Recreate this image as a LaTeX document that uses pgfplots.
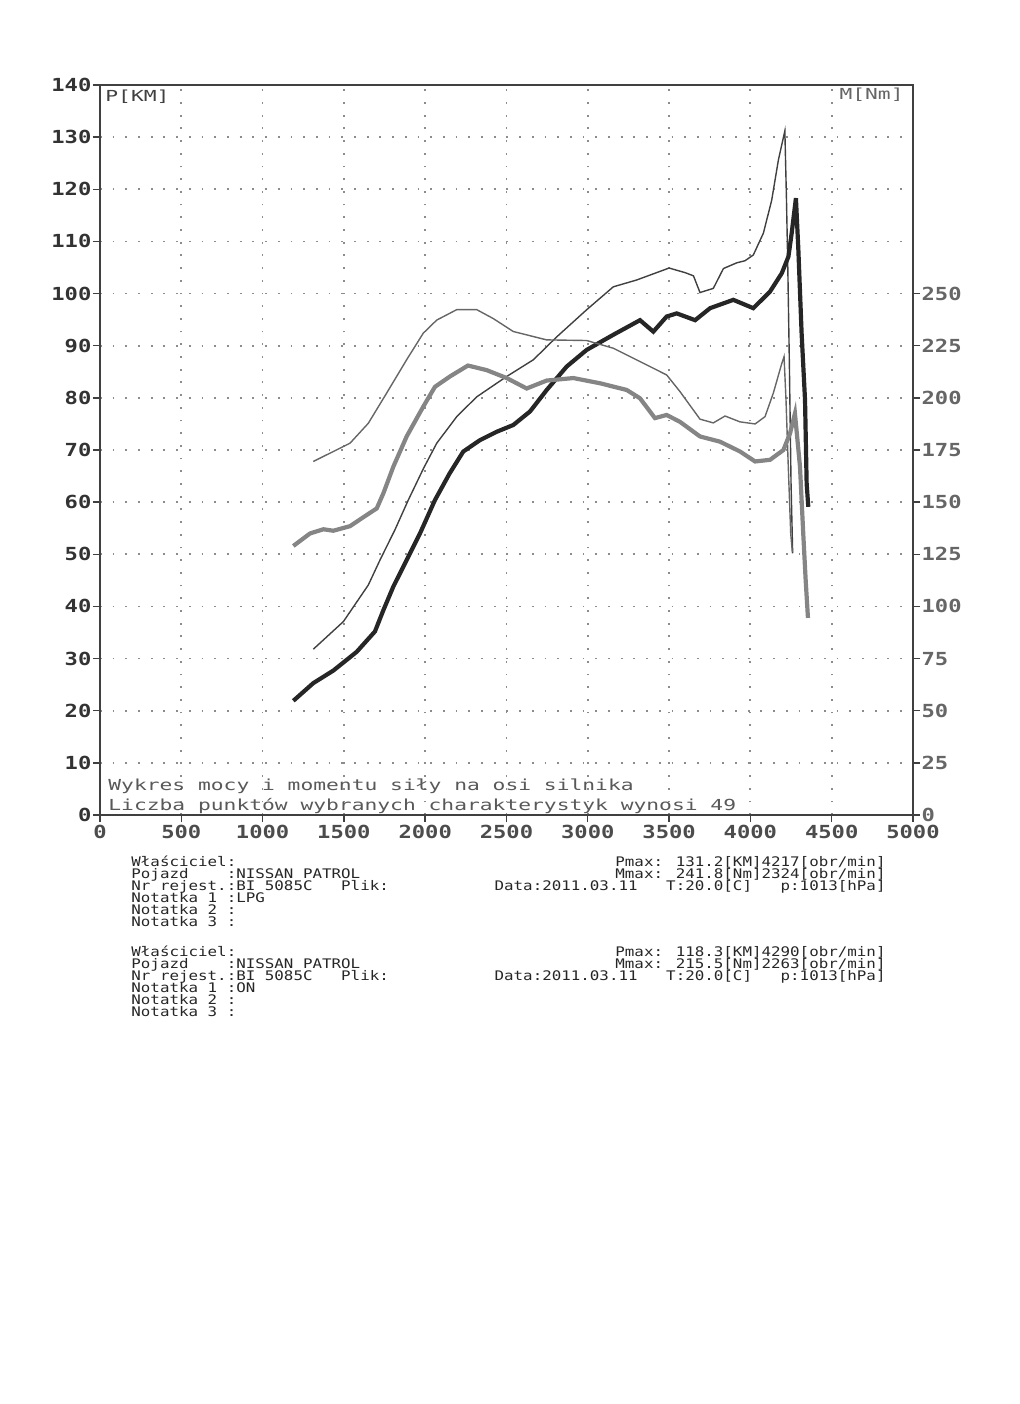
\documentclass[border=0pt]{standalone}
\usepackage{fontspec}
\usepackage{pgfplots}
\pgfplotsset{compat=1.18}
\setmainfont{DejaVu Sans Mono}
% wide, low "dot-matrix" look of the dyno printout
\newfontfamily\dos[FakeStretch=1.2]{DejaVu Sans Mono}
\newfontfamily\dosbig[FakeStretch=1.40]{DejaVu Sans Mono}
\newfontfamily\dostick[FakeStretch=1.23]{DejaVu Sans Mono Bold}
\newcommand\tickfont{\dostick\fontsize{9}{9}\selectfont}
\newcommand\bigfont{\dosbig\fontsize{7.6}{8}\selectfont}
\newcommand\smallfont{\dos\fontsize{6.6}{6.6}\selectfont}
\definecolor{gridgray}{gray}{0.55}
\definecolor{framegray}{gray}{0.25}
\definecolor{torqgray}{gray}{0.52}

\pgfplotsset{
  dyno/.style={
    at={(50pt,-407.5pt)}, anchor=south west,
    scale only axis, width=406.5pt, height=365pt,
    xmin=0, xmax=5000,
    tick align=outside, major tick length=3.5pt,
    tick style={framegray, line width=0.7pt},
    axis line style={framegray, line width=0.7pt},
    /pgf/number format/assume math mode=true,
    /pgf/number format/1000 sep={},
    ticklabel style={font=\tickfont},
  },
}

\begin{document}
\begin{tikzpicture}
\path[use as bounding box] (0,0) rectangle (510pt,-702pt);

% power [KM]
\begin{axis}[dyno,
    ymin=0, ymax=140,
    xtick={0,500,...,5000}, ytick={0,10,...,140},
    xtick pos=bottom, ytick pos=left,
    grid=major,
    major grid style={gridgray, line width=0.9pt, dash pattern=on 0.9pt off 5.45pt},
    xticklabel style={text=black!70, inner sep=1.5pt},
    yticklabel style={text=black!80, inner sep=0.6pt},
  ]
  % LPG power (thin)
  \addplot[black!75, line width=0.7pt] coordinates {
    (1312,31.8) (1497,37.1) (1650,44.1) (1722,48.9) (1814,54.7) (1896,60.4)
    (1990,66.5) (2071,71.3) (2194,76.4) (2317,80.2) (2501,84.1) (2665,87.3)
    (2809,91.7) (2993,96.9) (3157,101.3) (3300,102.6) (3500,104.9) (3600,104.0)
    (3650,103.4) (3690,100.2) (3772,101.0) (3834,104.8) (3916,105.9) (3967,106.3)
    (4018,107.4) (4080,111.6) (4131,117.9) (4172,125.6) (4212,131.2)
    (4222,117.9) (4230,105.2) (4240,86.0) (4250,63.6) (4260,50.2)
  };
  % ON power (thick)
  \addplot[black!85, line width=2.1pt] coordinates {
    (1189,21.9) (1312,25.3) (1435,27.7) (1579,31.3) (1691,35.2) (1743,39.3)
    (1804,43.8) (1886,48.9) (1968,54.0) (2060,60.4) (2150,65.5) (2234,69.7)
    (2337,71.9) (2440,73.5) (2542,74.8) (2645,77.4) (2747,81.5) (2870,86.0)
    (2993,89.2) (3157,92.1) (3321,94.9) (3403,92.7) (3485,95.6) (3547,96.2)
    (3660,94.9) (3752,97.2) (3895,98.8) (4018,97.2) (4121,100.4) (4193,103.9)
    (4234,107.1) (4254,111.6) (4280,118.3) (4295,108.4) (4315,92.4)
    (4336,79.6) (4346,63.6) (4356,59.1)
  };
\end{axis}

% torque [Nm]
\begin{axis}[dyno,
    ymin=0, ymax=350, ytick={0,25,...,250},
    hide x axis, axis y line*=right,
    yticklabel style={text=black!60, inner sep=0.6pt},
  ]
  % LPG torque (thin)
  \addplot[black!60, line width=0.7pt] coordinates {
    (1312,169.5) (1538,178.3) (1650,187.8) (1763,202.3) (1886,218.3) (1988,231.0)
    (2071,237.3) (2194,242.3) (2317,242.3) (2419,238.0) (2542,231.8) (2747,227.8)
    (2993,227.5) (3157,223.8) (3362,215.8) (3485,211.0) (3567,203.0) (3690,189.8)
    (3772,188.0) (3844,191.3) (3936,188.5) (4029,187.5) (4090,191.0) (4141,202.3)
    (4193,216.5) (4207,219.8) (4219,199.0) (4233,167.0) (4248,135.0) (4258,126.0)
  };
  % ON torque (thick)
  \addplot[torqgray, line width=2.1pt] coordinates {
    (1189,129.0) (1292,135.0) (1374,137.0) (1435,136.3) (1538,138.5) (1620,142.8)
    (1702,147.0) (1743,154.3) (1804,167.0) (1886,181.5) (1988,195.8) (2060,205.3)
    (2153,210.3) (2263,215.5) (2378,213.3) (2501,209.5) (2624,204.5) (2747,208.3)
    (2911,209.5) (3075,207.0) (3239,203.8) (3321,199.8) (3413,190.3) (3485,191.8)
    (3567,188.5) (3690,181.5) (3813,179.0) (3936,174.3) (4029,169.5) (4121,170.3)
    (4203,175.0) (4244,183.0) (4274,192.5) (4305,167.0) (4325,135.0) (4340,112.5)
    (4354,94.5)
  };
\end{axis}

\begin{scope}[x=0.5pt, y=-0.5pt]
  \node[anchor=west, inner sep=0pt, text=black!75, font=\bigfont] at (105,97) {P[KM]};
  \node[anchor=east, inner sep=0pt, text=black!60, font=\bigfont] at (904,95) {M[Nm]};
  \node[anchor=base west, inner sep=0pt, text=black!65, font=\bigfont] at (108,790)
    {Wykres mocy i momentu siły na osi silnika};
  \node[anchor=base west, inner sep=0pt, text=black!65, font=\bigfont] at (108,810)
    {Liczba punktów wybranych charakterystyk wynosi 49};

  \begin{scope}[every node/.style={inner sep=0pt, text=black!85, font=\smallfont}]
    % first measurement (LPG)
    \node[anchor=base west] at (131,866) {Właściciel:};
    \node[anchor=base west] at (131,878) {Pojazd\ \ \ \ :NISSAN PATROL};
    \node[anchor=base west] at (131,890) {Nr rejest.:BI 5085C\ \ \ Plik:};
    \node[anchor=base west] at (131,902) {Notatka 1 :LPG};
    \node[anchor=base west] at (131,914) {Notatka 2 :};
    \node[anchor=base west] at (131,926) {Notatka 3 :};
    \node[anchor=base east] at (886,866) {Pmax: 131.2[KM]4217[obr/min]};
    \node[anchor=base east] at (886,878) {Mmax: 241.8[Nm]2324[obr/min]};
    \node[anchor=base east] at (886,890) {Data:2011.03.11\ \ \ T:20.0[C]\ \ \ p:1013[hPa]};
    % second measurement (ON)
    \node[anchor=base west] at (131,956) {Właściciel:};
    \node[anchor=base west] at (131,968) {Pojazd\ \ \ \ :NISSAN PATROL};
    \node[anchor=base west] at (131,980) {Nr rejest.:BI 5085C\ \ \ Plik:};
    \node[anchor=base west] at (131,992) {Notatka 1 :ON};
    \node[anchor=base west] at (131,1004) {Notatka 2 :};
    \node[anchor=base west] at (131,1016) {Notatka 3 :};
    \node[anchor=base east] at (886,956) {Pmax: 118.3[KM]4290[obr/min]};
    \node[anchor=base east] at (886,968) {Mmax: 215.5[Nm]2263[obr/min]};
    \node[anchor=base east] at (886,980) {Data:2011.03.11\ \ \ T:20.0[C]\ \ \ p:1013[hPa]};
  \end{scope}
\end{scope}
\end{tikzpicture}
\end{document}
